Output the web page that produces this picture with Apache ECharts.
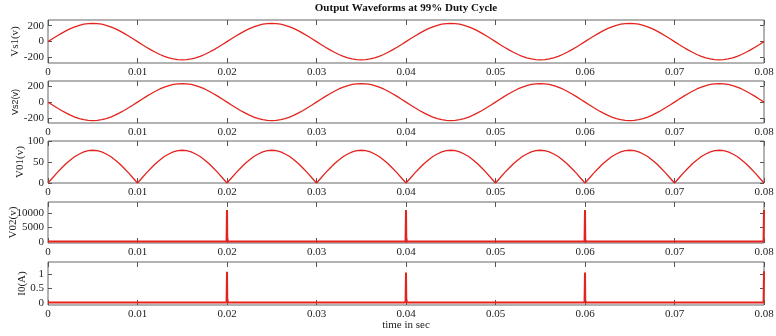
<!DOCTYPE html>
<html><head><meta charset="utf-8">
<script src="https://cdn.jsdelivr.net/npm/echarts@6/dist/echarts.min.js"></script>
<style>html,body{margin:0;padding:0;background:#fff}#c{width:776px;height:336px}</style>
</head><body><div id="c"></div>
<script>
// sampling step of the waveform traces (s)
const step = 0.0005;
const xTicks = [0, 0.01, 0.02, 0.03, 0.04, 0.05, 0.06, 0.07, 0.08];
const yNames = ['Vs1(v)', 'Vs2(v)', 'V01(v)', 'V02(v)', 'I0(A)'];
const yTicks1 = [-200, 0, 200];
const yTicks2 = [-200, 0, 200];
const yTicks3 = [0, 50, 100];
const yTicks4 = [0, 5000, 10000];
const yTicks5 = [0, 0.5, 1];

const vs1 = [
0,36,71,104,135,163,186,205,219,227,230,227,219,205,186,163,135,104,71,36,0,-36,-71,-104,-135,-163,-186,-205,-219,-227,-230,-227,-219,-205,-186,-163,-135,-104,-71,-36,
0,36,71,104,135,163,186,205,219,227,230,227,219,205,186,163,135,104,71,36,0,-36,-71,-104,-135,-163,-186,-205,-219,-227,-230,-227,-219,-205,-186,-163,-135,-104,-71,-36,
0,36,71,104,135,163,186,205,219,227,230,227,219,205,186,163,135,104,71,36,0,-36,-71,-104,-135,-163,-186,-205,-219,-227,-230,-227,-219,-205,-186,-163,-135,-104,-71,-36,
0,36,71,104,135,163,186,205,219,227,230,227,219,205,186,163,135,104,71,36,0,-36,-71,-104,-135,-163,-186,-205,-219,-227,-230,-227,-219,-205,-186,-163,-135,-104,-71,-36,
0];
const vs2 = [
0,-36,-71,-104,-135,-163,-186,-205,-219,-227,-230,-227,-219,-205,-186,-163,-135,-104,-71,-36,0,36,71,104,135,163,186,205,219,227,230,227,219,205,186,163,135,104,71,36,
0,-36,-71,-104,-135,-163,-186,-205,-219,-227,-230,-227,-219,-205,-186,-163,-135,-104,-71,-36,0,36,71,104,135,163,186,205,219,227,230,227,219,205,186,163,135,104,71,36,
0,-36,-71,-104,-135,-163,-186,-205,-219,-227,-230,-227,-219,-205,-186,-163,-135,-104,-71,-36,0,36,71,104,135,163,186,205,219,227,230,227,219,205,186,163,135,104,71,36,
0,-36,-71,-104,-135,-163,-186,-205,-219,-227,-230,-227,-219,-205,-186,-163,-135,-104,-71,-36,0,36,71,104,135,163,186,205,219,227,230,227,219,205,186,163,135,104,71,36,
0];
const v01 = [
0,12,24,35,46,55,63,69,74,77,78,77,74,69,63,55,46,35,24,12,
0,12,24,35,46,55,63,69,74,77,78,77,74,69,63,55,46,35,24,12,
0,12,24,35,46,55,63,69,74,77,78,77,74,69,63,55,46,35,24,12,
0,12,24,35,46,55,63,69,74,77,78,77,74,69,63,55,46,35,24,12,
0,12,24,35,46,55,63,69,74,77,78,77,74,69,63,55,46,35,24,12,
0,12,24,35,46,55,63,69,74,77,78,77,74,69,63,55,46,35,24,12,
0,12,24,35,46,55,63,69,74,77,78,77,74,69,63,55,46,35,24,12,
0,12,24,35,46,55,63,69,74,77,78,77,74,69,63,55,46,35,24,12,
0];
const spikeT = [0, 0.01995, 0.02, 0.02003, 0.0201, 0.0202, 0.03995, 0.04, 0.04003, 0.0401, 0.0402, 0.05995, 0.06, 0.06003, 0.0601, 0.07995, 0.08];
const v02 = [50, 50, 11000, 1500, 50, 50, 50, 11000, 1500, 50, 50, 50, 11000, 800, 50, 50, 11000];
const i0 = [0.01, 0.01, 1.08, 0.15, 0.01, 0.01, 0.01, 1.05, 0.15, 0.01, 0.01, 0.01, 1.05, 0.08, 0.01, 0.01, 1.1];

const RED = '#e3231d';
const FONT = '"Liberation Serif", "Times New Roman", serif';
const frameColor = '#666';

function pairs(ts, vs) { return vs.map((v, i) => [ts[i], v]); }
function sampled(vs) { return vs.map((v, i) => [+(i * step).toFixed(5), v]); }

const grids = [
  {top: 20, height: 43}, {top: 81, height: 42}, {top: 141, height: 42},
  {top: 202, height: 41}, {top: 262, height: 43}
].map(g => Object.assign({left: 48, right: 12, show: true, borderColor: frameColor, borderWidth: 1,
  containLabel: false, outerBoundsMode: 'none'}, g));

const yCfg = [
  {min: -270, max: 272, ticks: yTicks1, gap: 27, font: FONT, size: 11},
  {min: -260, max: 262, ticks: yTicks2, gap: 28, font: 'Arial, "Liberation Sans", sans-serif', size: 9},
  {min: 0, max: 100, ticks: yTicks3, gap: 22, font: FONT, size: 11},
  {min: -450, max: 13800, ticks: yTicks4, gap: 29, font: FONT, size: 11},
  {min: -0.08, max: 1.42, ticks: yTicks5, gap: 20, font: FONT, size: 11}
];

const xAxis = [], yAxis = [];
grids.forEach((g, i) => {
  xAxis.push({
    type: 'value', gridIndex: i, min: 0, max: 0.08, interval: 0.01, position: 'bottom',
    axisLine: {show: false, onZero: false}, splitLine: {show: false},
    axisTick: {show: true, inside: true, length: 5, lineStyle: {color: '#555'}},
    axisLabel: {margin: 4, fontFamily: FONT, fontSize: 11, color: '#222',
      customValues: xTicks, formatter: v => String(+v.toFixed(2))}
  });
  xAxis.push({
    type: 'value', gridIndex: i, min: 0, max: 0.08, interval: 0.01, position: 'top',
    axisLine: {show: false, onZero: false}, splitLine: {show: false},
    axisTick: {show: true, inside: true, length: 5, lineStyle: {color: '#555'}},
    axisLabel: {show: false}
  });
  const c = yCfg[i];
  yAxis.push({
    type: 'value', gridIndex: i, min: c.min, max: c.max, position: 'left',
    name: yNames[i], nameLocation: 'middle', nameGap: c.gap, nameMoveOverlap: false,
    nameTextStyle: {fontFamily: c.font, fontSize: c.size, color: '#222'},
    axisLine: {show: false, onZero: false}, splitLine: {show: false},
    axisTick: {show: true, inside: true, length: 4, customValues: c.ticks, lineStyle: {color: '#555'}},
    axisLabel: {margin: 4, fontFamily: FONT, fontSize: 11, color: '#222', customValues: c.ticks,
      formatter: v => String(v)}
  });
  yAxis.push({
    type: 'value', gridIndex: i, min: c.min, max: c.max, position: 'right',
    axisLine: {show: false, onZero: false}, splitLine: {show: false},
    axisTick: {show: true, inside: true, length: 4, customValues: c.ticks, lineStyle: {color: '#555'}},
    axisLabel: {show: false}
  });
});

function line(idx, data, w) {
  return {type: 'line', xAxisIndex: idx * 2, yAxisIndex: idx * 2, data: data,
    showSymbol: false, symbol: 'none', smooth: false, animation: false,
    lineStyle: {color: RED, width: w}, clip: true};
}

const option = {
  animation: false,
  grid: grids, xAxis: xAxis, yAxis: yAxis,
  series: [
    line(0, sampled(vs1), 1.3),
    line(1, sampled(vs2), 1.3),
    line(2, sampled(v01), 1.3),
    line(3, pairs(spikeT, v02), 2),
    line(4, pairs(spikeT, i0), 2)
  ],
  graphic: [
    {type: 'text', x: 406, y: 3, style: {text: 'Output Waveforms at 99% Duty Cycle', textAlign: 'center',
      font: 'bold 11px ' + FONT, fill: '#111'}},
    {type: 'text', x: 406, y: 320, style: {text: 'time in sec', textAlign: 'center',
      font: '11px ' + FONT, fill: '#222'}}
  ]
};
const chart = echarts.init(document.getElementById('c'), null, {renderer: 'canvas'});
chart.setOption(option);
</script></body></html>
